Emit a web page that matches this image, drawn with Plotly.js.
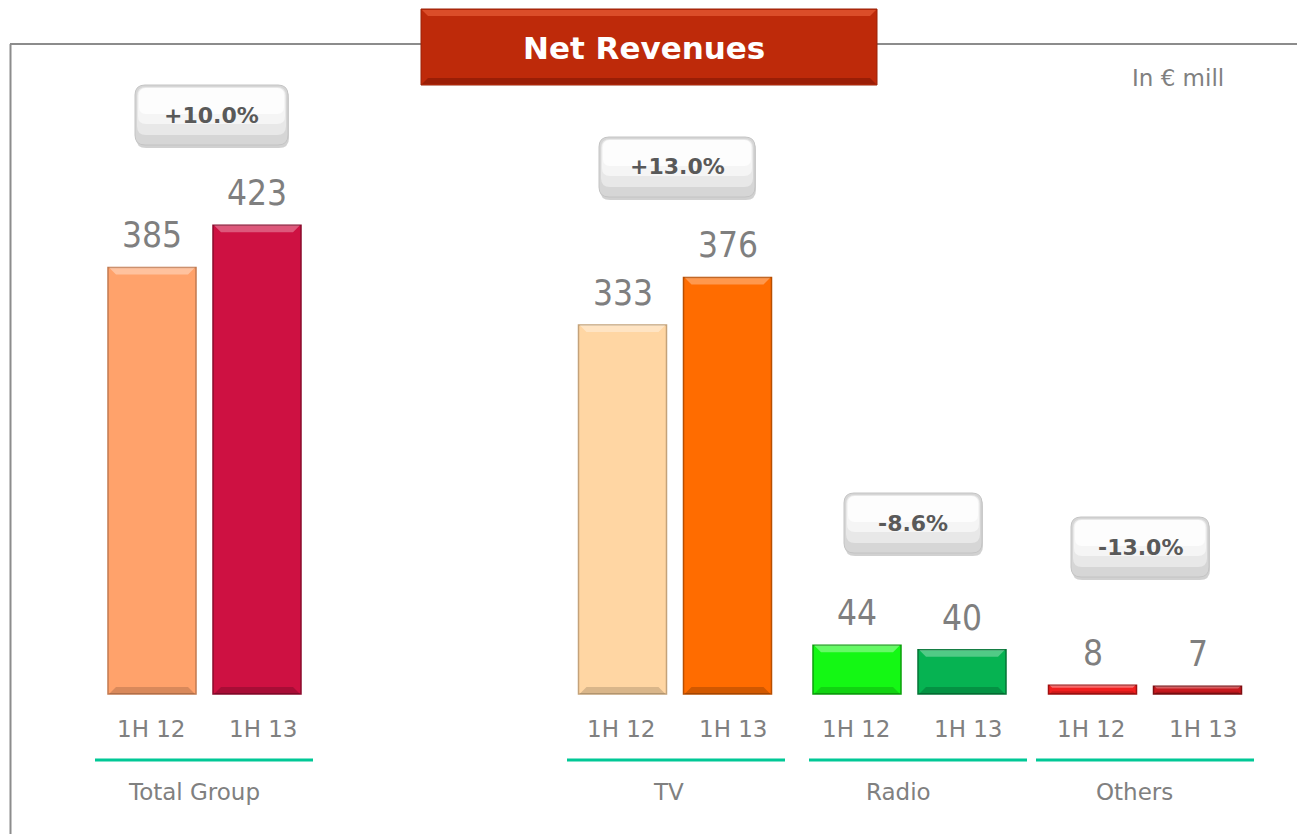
<!DOCTYPE html>
<html>
<head>
<meta charset="utf-8">
<script src="https://cdn.plot.ly/plotly-3.0.1.min.js"></script>
<style>html,body{margin:0;padding:0;background:#fff;}#chart{width:1297px;height:834px;}</style>
</head>
<body>
<div id="chart"></div>
<script>
// ---- data ----
var groups = ["Total Group", "TV", "Radio", "Others"];
var periods = ["1H 12", "1H 13"];
var values1H12 = [385, 333, 44, 8];
var values1H13 = [423, 376, 40, 7];
var changes = ["+10.0%", "+13.0%", "-8.6%", "-13.0%"];
var chartTitle = "Net Revenues";
var unitNote = "In € mill";

// ---- layout constants (pixels) ----
var W = 1297, H = 834;
var baseY = 694, pxPerUnit = 1.108;
var groupCenters = [204.5, 675, 909.5, 1145];
var underlineCenters = [204, 676, 918, 1145];
var labelCenters = [194, 668, 898, 1134];
var barOffset = 52.5, barWidth = 88;
var boxCenterX = [211.5, 677, 913, 1140];
var boxCenterY = [115, 167, 523, 547];
var boxWidths = [153, 156, 138, 138];
var colors12 = ["#FFA26B", "#FFD6A3", "#14F814", "#F21E1E"];
var colors13 = ["#CE1142", "#FF6C00", "#06B352", "#C8191E"];
var lines12 = ["#C27A50", "#C4A27A", "#0B9E0B", "#A01010"];
var lines13 = ["#8A0B2C", "#B84E00", "#047436", "#7E0E12"];

function yd(px) { return (baseY - px) / pxPerUnit; }
function pp(px) { return 1 - px / H; }

var x12 = groupCenters.map(function (c) { return c - barOffset; });
var x13 = groupCenters.map(function (c) { return c + barOffset; });

var traces = [
  { type: "bar", x: x12, y: values1H12, width: barWidth, name: periods[0],
    marker: { color: colors12, line: { color: lines12, width: 1.5 } }, hoverinfo: "y" },
  { type: "bar", x: x13, y: values1H13, width: barWidth, name: periods[1],
    marker: { color: colors13, line: { color: lines13, width: 1.5 } }, hoverinfo: "y" }
];

var shapes = [];
var annotations = [];

// frame lines
shapes.push({ type: "line", xref: "x", yref: "paper", x0: 10, x1: W, y0: pp(44), y1: pp(44), line: { color: "#8C8C8C", width: 2 } });
shapes.push({ type: "line", xref: "x", yref: "paper", x0: 10.5, x1: 10.5, y0: pp(44), y1: 0, line: { color: "#8C8C8C", width: 2 } });

// bar bevels
function bevel(xc, v, light, dark) {
  var hpx = v * pxPerUnit;
  var b = Math.min(7, hpx * 0.3);
  var x0 = xc - barWidth / 2 + 1, x1 = xc + barWidth / 2 - 1;
  shapes.push({ type: "path", xref: "x", yref: "y", layer: "above", line: { width: 0 }, fillcolor: light,
    path: "M" + x0 + "," + v + " L" + x1 + "," + v + " L" + (x1 - b) + "," + (v - b / pxPerUnit) + " L" + (x0 + b) + "," + (v - b / pxPerUnit) + " Z" });
  shapes.push({ type: "path", xref: "x", yref: "y", layer: "above", line: { width: 0 }, fillcolor: dark,
    path: "M" + x0 + ",0 L" + x1 + ",0 L" + (x1 - b) + "," + (b / pxPerUnit) + " L" + (x0 + b) + "," + (b / pxPerUnit) + " Z" });
}
for (var i = 0; i < groups.length; i++) {
  bevel(x12[i], values1H12[i], "rgba(255,255,255,0.35)", "rgba(0,0,0,0.15)");
  bevel(x13[i], values1H13[i], "rgba(255,255,255,0.30)", "rgba(0,0,0,0.18)");
}

// rounded rect path in pixel coords -> data coords
function rrect(cx, cy, w, h, r) {
  var x0 = cx - w / 2, x1 = cx + w / 2, t = cy - h / 2, b = cy + h / 2;
  function P(x, y) { return x + "," + yd(y); }
  return "M" + P(x0 + r, t) + " L" + P(x1 - r, t) + " Q" + P(x1, t) + " " + P(x1, t + r) +
    " L" + P(x1, b - r) + " Q" + P(x1, b) + " " + P(x1 - r, b) +
    " L" + P(x0 + r, b) + " Q" + P(x0, b) + " " + P(x0, b - r) +
    " L" + P(x0, t + r) + " Q" + P(x0, t) + " " + P(x0 + r, t) + " Z";
}

// change boxes
for (var i = 0; i < groups.length; i++) {
  var cx = boxCenterX[i], cy = boxCenterY[i], w = boxWidths[i], h = 60;
  shapes.push({ type: "path", xref: "x", yref: "y", layer: "above", path: rrect(cx + 1, cy + 3, w, h, 10), fillcolor: "rgba(0,0,0,0.18)", line: { width: 0 } });
  shapes.push({ type: "path", xref: "x", yref: "y", layer: "above", path: rrect(cx, cy, w, h, 10), fillcolor: "#D6D6D6", line: { color: "#C4C4C4", width: 1 } });
  shapes.push({ type: "path", xref: "x", yref: "y", layer: "above", path: rrect(cx, cy - 4, w - 4, h - 12, 9), fillcolor: "#E8E8E8", line: { width: 0 } });
  shapes.push({ type: "path", xref: "x", yref: "y", layer: "above", path: rrect(cx, cy - 9, w - 6, h - 24, 8), fillcolor: "#F5F5F5", line: { width: 0 } });
  shapes.push({ type: "path", xref: "x", yref: "y", layer: "above", path: rrect(cx, cy - 14, w - 8, h - 34, 7), fillcolor: "#FDFDFD", line: { width: 0 } });
  annotations.push({ xref: "x", yref: "paper", x: cx, y: pp(cy), text: "<b>" + changes[i] + "</b>", showarrow: false,
    font: { family: "DejaVu Sans, Verdana, sans-serif", size: 22, color: "#595959" }, xanchor: "center", yanchor: "middle" });
}

// group underline + labels
for (var i = 0; i < groups.length; i++) {
  var uc = underlineCenters[i];
  shapes.push({ type: "line", xref: "x", yref: "paper", x0: uc - 109, x1: uc + 109, y0: pp(760), y1: pp(760), line: { color: "#00C896", width: 3 } });
  annotations.push({ xref: "x", yref: "paper", x: labelCenters[i], y: pp(792), text: groups[i], showarrow: false,
    font: { family: "DejaVu Sans, Verdana, sans-serif", size: 23, color: "#808080" }, xanchor: "center", yanchor: "middle" });
  annotations.push({ xref: "x", yref: "paper", x: x12[i] - 1, y: pp(729), text: periods[0], showarrow: false,
    font: { family: "DejaVu Sans, Verdana, sans-serif", size: 23, color: "#808080" }, xanchor: "center", yanchor: "middle" });
  annotations.push({ xref: "x", yref: "paper", x: x13[i] + 6, y: pp(729), text: periods[1], showarrow: false,
    font: { family: "DejaVu Sans, Verdana, sans-serif", size: 23, color: "#808080" }, xanchor: "center", yanchor: "middle" });
  annotations.push({ xref: "x", yref: "y", x: x12[i], y: values1H12[i], yshift: 32, text: String(values1H12[i]), showarrow: false,
    font: { family: "Liberation Sans Narrow, DejaVu Sans Condensed, Arial Narrow, sans-serif", size: 35, color: "#7F7F7F" }, xanchor: "center", yanchor: "middle" });
  annotations.push({ xref: "x", yref: "y", x: x13[i], y: values1H13[i], yshift: 32, text: String(values1H13[i]), showarrow: false,
    font: { family: "Liberation Sans Narrow, DejaVu Sans Condensed, Arial Narrow, sans-serif", size: 35, color: "#7F7F7F" }, xanchor: "center", yanchor: "middle" });
}

// title box
shapes.push({ type: "rect", xref: "x", yref: "paper", x0: 421, x1: 877, y0: pp(85), y1: pp(9), fillcolor: "#BE2A0A", line: { color: "#9A2208", width: 1 }, layer: "above" });
shapes.push({ type: "path", xref: "x", yref: "y", layer: "above", line: { width: 0 }, fillcolor: "rgba(255,120,80,0.45)",
  path: "M422," + yd(10) + " L876," + yd(10) + " L870," + yd(16) + " L428," + yd(16) + " Z" });
shapes.push({ type: "path", xref: "x", yref: "y", layer: "above", line: { width: 0 }, fillcolor: "rgba(90,10,0,0.35)",
  path: "M422," + yd(84) + " L876," + yd(84) + " L870," + yd(78) + " L428," + yd(78) + " Z" });
annotations.push({ xref: "x", yref: "paper", x: 644, y: pp(48), text: "<b>" + chartTitle + "</b>", showarrow: false,
  font: { family: "DejaVu Sans, Verdana, sans-serif", size: 31, color: "#FFFFFF" }, xanchor: "center", yanchor: "middle" });

// unit note
annotations.push({ xref: "x", yref: "paper", x: 1178, y: pp(78), text: unitNote, showarrow: false,
  font: { family: "DejaVu Sans, Verdana, sans-serif", size: 23, color: "#808080" }, xanchor: "center", yanchor: "middle" });

var layout = {
  width: W, height: H, autosize: false,
  margin: { l: 0, r: 0, t: 0, b: 0, pad: 0 },
  paper_bgcolor: "#FFFFFF", plot_bgcolor: "#FFFFFF",
  showlegend: false,
  barmode: "overlay",
  xaxis: { range: [0, W], visible: false, fixedrange: true },
  yaxis: { range: [yd(H), yd(0)], visible: false, fixedrange: true },
  shapes: shapes,
  annotations: annotations
};

Plotly.newPlot("chart", traces, layout, { displayModeBar: false, staticPlot: true });
</script>
</body>
</html>
